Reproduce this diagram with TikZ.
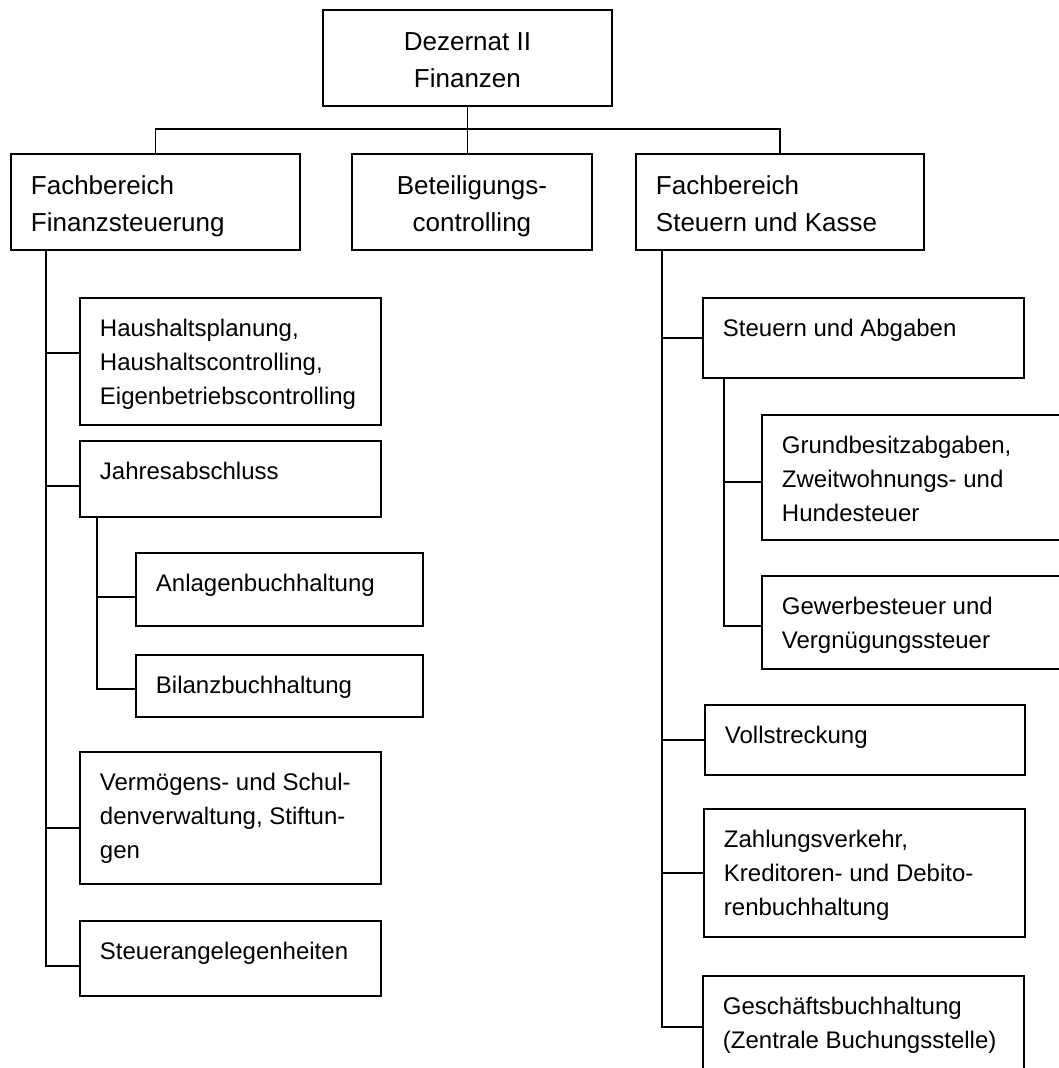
\documentclass[tikz,border=0pt]{standalone}
\usepackage{fontspec}
\setmainfont{Liberation Sans}

\newlength{\unitpx}
\setlength{\unitpx}{0.4pt}
% box text: [alignment]{box width}{box height}{text}, sizes in pixels
\newcommand{\unittext}[4][\raggedright]{%
  \parbox[t][\dimexpr#3\unitpx-30\unitpx\relax][t]{\dimexpr#2\unitpx-40\unitpx\relax}{#1\strut#4}}

\begin{document}
\begin{tikzpicture}[
    x = 0.4pt, y = -0.4pt, % one unit = one pixel, y down
    line width = 0.75pt, % line style
    every node/.style = {inner xsep = 8pt, inner ysep = 6pt, anchor = north west},
    head/.style = {draw, font = \fontsize{10.4pt}{14.8pt}\selectfont},
    unit/.style = {draw, font = \fontsize{9.6pt}{13.6pt}\selectfont}
    ]
    \useasboundingbox (0,0) rectangle (1059,1068);
    \clip (0,0) rectangle (1059,1068);

    \node[head] (dez) at (322,9) {\unittext[\centering]{289}{96}{Dezernat II\\Finanzen}};
    \node[head] (fs) at (10,153) {\unittext{289}{96}{Fachbereich\\Finanzsteuerung}};
    \node[head] (bet) at (351,153) {\unittext[\centering]{240}{96}{Beteiligungs-\\controlling}};
    \node[head] (fsk) at (635,153) {\unittext{288}{96}{Fachbereich\\Steuern und Kasse}};

    % Finanzsteuerung
    \node[unit] (haus) at (79,297) {\unittext{301}{127}{Haushaltsplanung,\\Haushaltscontrolling,\\Eigenbetriebscontrolling}};
    \node[unit] (jahr) at (79,440) {\unittext{301}{76}{Jahresabschluss}};
    \node[unit] (anl) at (135,552) {\unittext{287}{73}{Anlagenbuchhaltung}};
    \node[unit] (bil) at (135,654) {\unittext{287}{62}{Bilanzbuchhaltung}};
    \node[unit] (verm) at (79,751) {\unittext{301}{132}{Vermögens- und Schul-\\denverwaltung, Stiftun-\\gen}};
    \node[unit] (stang) at (79,920) {\unittext{301}{75}{Steuerangelegenheiten}};

    % Steuern und Kasse
    \node[unit] (sua) at (702,297) {\unittext{321}{80}{Steuern und Abgaben}};
    \node[unit] (grund) at (761,414) {\unittext{320}{125}{Grundbesitzabgaben,\\Zweitwohnungs- und\\Hundesteuer}};
    \node[unit] (gew) at (761,575) {\unittext{320}{93}{Gewerbesteuer und\\Vergnügungssteuer}};
    \node[unit] (voll) at (704,704) {\unittext{320}{70}{Vollstreckung}};
    \node[unit] (zahl) at (703,808) {\unittext{321}{128}{Zahlungsverkehr,\\Kreditoren- und Debito-\\renbuchhaltung}};
    \node[unit] (gesch) at (702,975) {\unittext{321}{102}{Geschäftsbuchhaltung\\(Zentrale Buchungsstelle)}};

    \coordinate (bus) at (466,129);
    \coordinate (fstrunk) at (46,249);
    \coordinate (jtrunk) at (97,516);
    \coordinate (fsktrunk) at (662,249);
    \coordinate (suatrunk) at (724,377);

    \draw (fs.north) |- (bus) -| (fsk.north);
    \draw (dez.south) -- (bet.north -| dez.south);

    % branches, shifted to where they meet the boxes
    \draw (fstrunk) |- ([yshift=-3pt]stang.west);
    \foreach \n/\s in {haus/3.4, jahr/-2.8, verm/-4}
        \draw (fstrunk) |- ([yshift=\s pt]\n.west);
    \draw (jtrunk) |- ([yshift=-1.2pt]bil.west);
    \draw (jtrunk) |- ([yshift=-3pt]anl.west);

    \draw (fsktrunk) |- (gesch.west);
    \foreach \n in {sua, voll, zahl}
        \draw (fsktrunk) |- (\n.west);
    \draw (suatrunk) |- ([yshift=-1.4pt]gew.west);
    \draw (suatrunk) |- ([yshift=-1.8pt]grund.west);
\end{tikzpicture}
\end{document}
